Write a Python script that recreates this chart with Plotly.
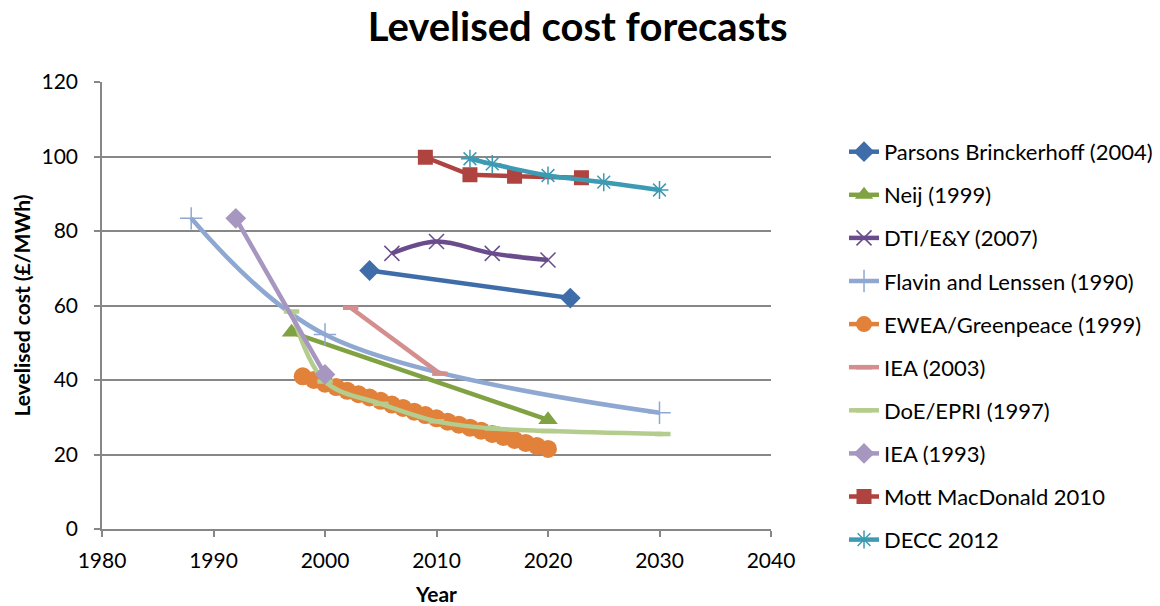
import plotly.graph_objects as go

# Levelised cost forecasts (£/MWh) by source, against year
pb_years = [2004, 2022]
pb_cost = [69.4, 62.0]

neij_years = [1997, 2020]
neij_cost = [52.8, 29.3]

dti_years = [2006, 2010, 2015, 2020]
dti_cost = [74.0, 77.2, 74.0, 72.2]

flavin_years = [1988, 2000, 2030]
flavin_cost = [83.4, 52.2, 31.2]

ewea_years = [1998, 1999, 2000, 2001, 2002, 2003, 2004, 2005, 2006, 2007, 2008, 2009,
              2010, 2011, 2012, 2013, 2014, 2015, 2016, 2017, 2018, 2019, 2020]
ewea_cost = [41.0, 40.0, 39.0, 38.1, 37.1, 36.2, 35.3, 34.4, 33.4, 32.5, 31.5, 30.6,
             29.7, 28.8, 28.0, 27.2, 26.4, 25.5, 24.7, 23.9, 23.1, 22.3, 21.5]

iea03_years = [2002.3, 2010.3]
iea03_cost = [59.4, 41.7]

doe_years = [1997, 2000, 2005, 2010, 2015, 2020, 2030.3]
doe_cost = [58.4, 39.6, 33.6, 28.9, 27.0, 26.3, 25.5]

iea93_years = [1992, 2000]
iea93_cost = [83.4, 41.5]

mott_years = [2009, 2013, 2017, 2023]
mott_cost = [99.8, 95.1, 94.7, 94.3]

decc_years = [2013, 2015, 2020, 2025, 2030]
decc_cost = [99.4, 98.0, 94.9, 93.1, 91.0]

FONT = "Lato"
GRID = "#878787"

fig = go.Figure()


def add(name, x, y, color, symbol, size, smooth=False, open_symbol=False, mline=1.5):
    marker = dict(symbol=symbol, size=size, color=color)
    if open_symbol:
        marker["line"] = dict(color=color, width=mline)
    else:
        marker["line"] = dict(width=0)
    fig.add_trace(go.Scatter(
        x=x, y=y, name=name, mode="lines+markers",
        legendgroup=name,
        line=dict(color=color, width=4.5, shape="spline" if smooth else "linear",
                  smoothing=1.0),
        marker=marker,
    ))


add("Parsons Brinckerhoff (2004)", pb_years, pb_cost, "#3F6DA9", "diamond", 16)
add("Neij (1999)", neij_years, neij_cost, "#80A243", "triangle-up", 17)
add("DTI/E&Y (2007)", dti_years, dti_cost, "#6A4C8C", "x-thin-open", 15,
    smooth=True, open_symbol=True)
add("Flavin and Lenssen (1990)", flavin_years, flavin_cost, "#8EA8D2", "cross-thin-open", 16,
    smooth=True, open_symbol=True)
add("EWEA/Greenpeace (1999)", ewea_years, ewea_cost, "#E1813A", "circle", 18)
add("IEA (2003)", iea03_years, iea03_cost, "#D48E8D", "line-ew-open", 11,
    open_symbol=True, mline=4.5)
add("DoE/EPRI (1997)", doe_years, doe_cost, "#B4CD8E", "line-ew-open", 11,
    smooth=True, open_symbol=True, mline=4.5)
add("IEA (1993)", iea93_years, iea93_cost, "#A696C0", "diamond", 16)
add("Mott MacDonald 2010", mott_years, mott_cost, "#AF4340", "square", 15)
add("DECC 2012", decc_years, decc_cost, "#3D9AB3", "asterisk-open", 15,
    smooth=True, open_symbol=True)

fig.update_layout(
    width=1160, height=606,
    margin=dict(l=102, r=389, t=82, b=77, autoexpand=False),
    paper_bgcolor="white", plot_bgcolor="white",
    font=dict(family=FONT, size=21, color="black"),
    title=dict(text="<b>Levelised cost forecasts</b>", x=0.498, xref="container",
               xanchor="center", y=0.955, yanchor="middle",
               font=dict(family=FONT, size=40, color="black")),
    showlegend=True,
    legend=dict(xref="container", yref="container", x=0.7276, xanchor="left",
                y=0.784, yanchor="top", maxheight=600,
                font=dict(family=FONT, size=22, color="black"),
                tracegroupgap=11.5, bgcolor="rgba(0,0,0,0)"),
    xaxis=dict(range=[1980, 2040], tick0=1980, dtick=10, showgrid=False,
               showline=True, linecolor=GRID, linewidth=1.5,
               ticks="outside", ticklen=6, tickcolor=GRID, tickwidth=1.5,
               zeroline=False, tickfont=dict(size=21), ticklabelstandoff=6,
               automargin=False,
               title=dict(text="<b>Year</b>", font=dict(size=21), standoff=17)),
    yaxis=dict(range=[0, 120], tick0=0, dtick=20, showgrid=True, gridcolor=GRID,
               gridwidth=1.5, showline=True, linecolor=GRID, linewidth=1.5,
               ticks="outside", ticklen=6, tickcolor=GRID, tickwidth=1.5,
               zeroline=False, tickfont=dict(size=21), ticklabelstandoff=12,
               automargin=False,
               title=dict(text="<b>Levelised cost (£/MWh)</b>", font=dict(size=21),
                          standoff=5)),
)

fig.write_html("out.html")
